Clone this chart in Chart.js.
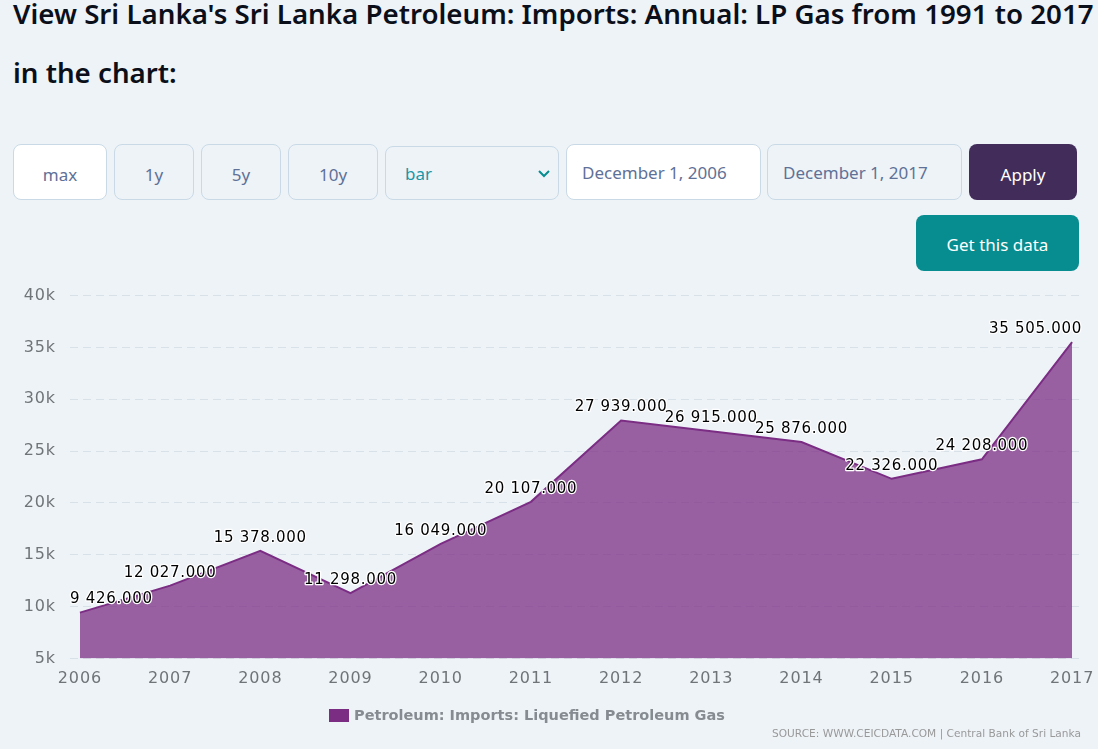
<!DOCTYPE html>
<html>
<head>
<meta charset="utf-8">
<script src="https://cdn.jsdelivr.net/npm/chart.js@4/dist/chart.umd.min.js"></script>
<style>
html,body{margin:0;padding:0;background:#eef3f8;width:1098px;height:749px;overflow:hidden;font-family:"Noto Sans",sans-serif}
h1{position:absolute;left:13px;top:-16px;margin:0;width:1090px;font-size:27.7px;font-weight:600;line-height:59px;color:#0b0f19;white-space:nowrap}
.c{position:absolute;box-sizing:border-box;border:1px solid #c9dae6;border-radius:8px;color:#5f7197;font-size:17px;display:flex;align-items:center;justify-content:center;padding-top:4px}
.w{background:#fff}
.l{justify-content:flex-start;padding:0 0 0 15px}
.btn{border:none;color:#fff;font-size:17px}
#chartBox{position:absolute;left:0;top:280px;width:1098px;height:469px}
#chart{display:block}
#legend{position:absolute;left:329px;top:706px;height:18px;display:flex;align-items:center;color:#858b90;font:bold 14.5px "DejaVu Sans",sans-serif;white-space:nowrap}
#legend i{display:block;width:20px;height:13px;background:#7b2d84;margin-right:5px}
#source{position:absolute;right:17px;top:727px;font:10.6px "DejaVu Sans",sans-serif;color:#999;white-space:nowrap}
</style>
</head>
<body>
<h1>View Sri Lanka's Sri Lanka Petroleum: Imports: Annual: LP Gas from 1991 to 2017<br>in the chart:</h1>
<div class="c w" style="left:13px;top:144px;width:94px;height:56px">max</div>
<div class="c" style="left:114px;top:144px;width:80px;height:56px">1y</div>
<div class="c" style="left:201px;top:144px;width:80px;height:56px">5y</div>
<div class="c" style="left:288px;top:144px;width:90px;height:56px">10y</div>
<div class="c l" style="left:385px;top:146px;width:174px;height:54px;color:#1a97a6;padding-left:19px;padding-top:0">bar
<svg style="position:absolute;right:7px;top:22px" width="14" height="10" viewBox="0 0 14 10"><path d="M2 2 L7 7 L12 2" fill="none" stroke="#078d8f" stroke-width="2"/></svg></div>
<div class="c w l" style="left:566px;top:144px;width:195px;height:56px;padding-top:0">December 1, 2006</div>
<div class="c l" style="left:767px;top:144px;width:195px;height:56px;padding-top:0">December 1, 2017</div>
<div class="c btn" style="left:969px;top:144px;width:108px;height:56px;background:#422d5a">Apply</div>
<div class="c btn" style="left:916px;top:215px;width:163px;height:56px;background:#078d8f;padding-top:2px">Get this data</div>
<div id="chartBox"><canvas id="chart" width="1098" height="469"></canvas></div>
<div id="legend"><i></i><span id="legendText"></span></div>
<div id="source">SOURCE: WWW.CEICDATA.COM | Central Bank of Sri Lanka</div>
<script>
const seriesName='Petroleum: Imports: Liquefied Petroleum Gas'
const years=[2006,2007,2008,2009,2010,2011,2012,2013,2014,2015,2016,2017]
const values=[9426,12027,15378,11298,16049,20107,27939,26915,25876,22326,24208,35505]
const yTicks=[5000,10000,15000,20000,25000,30000,35000,40000]

document.getElementById('legendText').textContent=seriesName

function formatValue(v){
    return String(v).replace(/\B(?=(\d{3})+$)/g,' ')+'.000'
}

// axis text is a bit spaced out in the original
const tickSpacing={
    id:'tickSpacing',
    beforeDraw(chart){chart.ctx.letterSpacing='0.9px'}
}

// value labels with the white halo, pushed back inside the plot at both ends
const valueLabels={
    id:'valueLabels',
    afterDatasetsDraw(chart){
        const ctx=chart.ctx
        const area=chart.chartArea
        ctx.save()
        ctx.font='15px "DejaVu Sans"'
        ctx.letterSpacing='0.7px'
        ctx.textAlign='center'
        ctx.textBaseline='middle'
        ctx.lineJoin='round'
        chart.getDatasetMeta(0).data.forEach((pt,i)=>{
            const txt=formatValue(values[i])
            const w=ctx.measureText(txt).width
            let x=pt.x
            if(x-w/2<area.left) x=area.left+w/2
            if(x+w/2>area.right) x=area.right-w/2
            ctx.lineWidth=2.5
            ctx.strokeStyle='#fff'
            ctx.strokeText(txt,x,pt.y-13)
            ctx.fillStyle='#000'
            ctx.fillText(txt,x,pt.y-13)
        })
        ctx.restore()
    }
}

const ctx=document.getElementById('chart').getContext('2d')
new Chart(ctx,{
    type:'line',
    data:{
        datasets:[{
            label:seriesName,
            data:years.map((y,i)=>({x:y,y:values[i]})),
            borderColor:'#7b2d84',
            borderWidth:2,
            backgroundColor:'rgba(123,45,132,0.75)',
            fill:'start',
            tension:0,
            pointRadius:0
        }]
    },
    options:{
        responsive:false,
        animation:false,
        layout:{padding:{left:0,right:16,top:15.5,bottom:0}},
        plugins:{legend:{display:false},tooltip:{enabled:false}},
        scales:{
            x:{
                type:'linear',
                min:2005.89,
                max:2017.11,
                afterBuildTicks(s){s.ticks=years.map(y=>({value:y}))},
                afterFit(s){s.height=90.5;s.paddingLeft=0;s.paddingRight=0},
                grid:{display:false},
                border:{display:false},
                ticks:{
                    autoSkip:false,
                    maxRotation:0,
                    padding:3,
                    color:'#6f7478',
                    font:{family:'DejaVu Sans',size:16},
                    callback:v=>String(v)
                }
            },
            y:{
                min:5000,
                max:40000,
                afterBuildTicks(s){s.ticks=yTicks.map(v=>({value:v}))},
                afterFit(s){s.width=70;s.paddingTop=0;s.paddingBottom=0},
                border:{display:false,dash:[8,5]},
                grid:{color:'#d9e1e8',lineWidth:1,drawTicks:false},
                ticks:{
                    padding:14,
                    color:'#6f7478',
                    font:{family:'DejaVu Sans',size:16},
                    callback:v=>v/1000+'k'
                }
            }
        }
    },
    plugins:[tickSpacing,valueLabels]
})
</script>
</body>
</html>
